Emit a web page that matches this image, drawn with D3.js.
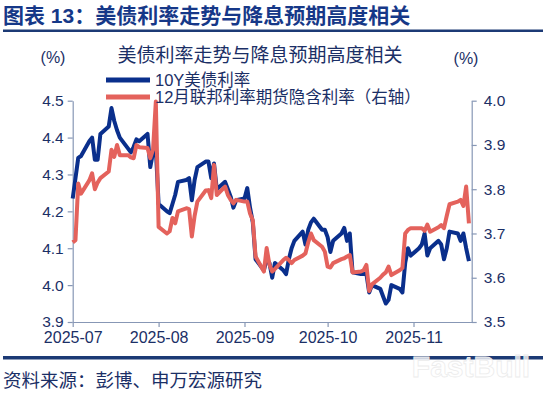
<!DOCTYPE html>
<html>
<head>
<meta charset="utf-8">
<script src="https://cdn.jsdelivr.net/npm/d3@7"></script>
<style>
  body { margin: 0; background: #fff; }
  text { font-family: "Liberation Sans", Arial, "Noto Sans CJK SC", sans-serif; }
</style>
</head>
<body>
<div id="container"></div>
<script>
/**
 * DATA
 * */
const dates = [
  "07-01", "07-02", "07-03", "07-04",
  "07-07", "07-08", "07-09", "07-10", "07-11",
  "07-14", "07-15", "07-16", "07-17", "07-18",
  "07-21", "07-22", "07-23", "07-24", "07-25",
  "07-28", "07-29", "07-30", "07-31", "08-01",
  "08-04", "08-05", "08-06", "08-07", "08-08",
  "08-11", "08-12", "08-13", "08-14", "08-15",
  "08-18", "08-19", "08-20", "08-21", "08-22",
  "08-25", "08-26", "08-27", "08-28", "08-29",
  "09-01", "09-02", "09-03", "09-04", "09-05",
  "09-08", "09-09", "09-10", "09-11", "09-12",
  "09-15", "09-16", "09-17", "09-18", "09-19",
  "09-22", "09-23", "09-24", "09-25", "09-26",
  "09-29", "09-30", "10-01", "10-02", "10-03",
  "10-06", "10-07", "10-08", "10-09", "10-10",
  "10-13", "10-14", "10-15", "10-16", "10-17",
  "10-20", "10-21", "10-22", "10-23", "10-24",
  "10-27", "10-28", "10-29", "10-30", "10-31",
  "11-03", "11-04", "11-05", "11-06", "11-07",
  "11-10", "11-11", "11-12", "11-13", "11-14",
  "11-17", "11-18", "11-19", "11-20", "11-21",
];

// 10Y US treasury yield (left axis)
const us10y = [
  4.235, 4.29, 4.345, 4.35,
  4.39, 4.40, 4.34, 4.34, 4.41,
  4.43, 4.48, 4.445, 4.42, 4.40,
  4.37, 4.36, 4.375, 4.395, 4.39,
  4.41, 4.32, 4.36, 4.37, 4.22,
  4.20, 4.195, 4.22, 4.245, 4.28,
  4.285, 4.29, 4.23, 4.285, 4.32,
  4.335, 4.335, 4.29, 4.33, 4.26,
  4.28, 4.26, 4.24, 4.21, 4.23,
  4.235, 4.263, 4.21, 4.17, 4.07,
  4.04, 4.07, 4.06, 4.02, 4.06,
  4.04, 4.03, 4.07, 4.10, 4.12,
  4.145, 4.11, 4.15, 4.17, 4.18,
  4.15, 4.15, 4.13, 4.09, 4.12,
  4.14, 4.155, 4.12, 4.14, 4.035,
  4.03, 4.03, 4.03, 3.98, 4.00,
  3.99, 3.97, 3.95, 3.96, 4.00,
  3.99, 3.98, 4.06, 4.10, 4.08,
  4.10, 4.11, 4.14, 4.08, 4.10,
  4.12, 4.11, 4.07, 4.10, 4.145,
  4.14, 4.12, 4.14, 4.10, 4.065,
];

// Dec fed funds futures implied rate (right axis)
const fedFut = [
  3.68, 3.685, 3.813, 3.79,
  3.82, 3.836, 3.80, 3.815, 3.825,
  3.84, 3.889, 3.873, 3.90, 3.877,
  3.877, 3.872, 3.87, 3.90, 3.895,
  3.893, 3.87, 3.89, 3.998, 3.715,
  3.70, 3.705, 3.735, 3.723, 3.75,
  3.757, 3.755, 3.693, 3.74, 3.772,
  3.797, 3.798, 3.78, 3.855, 3.787,
  3.806, 3.787, 3.776, 3.768, 3.776,
  3.772, 3.772, 3.745, 3.73, 3.648,
  3.614, 3.667, 3.63, 3.614, 3.62,
  3.64, 3.645, 3.64, 3.633, 3.64,
  3.65, 3.655, 3.68, 3.70, 3.685,
  3.67, 3.659, 3.625, 3.623, 3.633,
  3.642, 3.644, 3.648, 3.651, 3.612,
  3.614, 3.617, 3.629, 3.57, 3.585,
  3.60, 3.607, 3.612, 3.625, 3.606,
  3.617, 3.622, 3.70, 3.708, 3.712,
  3.712, 3.712, 3.706, 3.72, 3.704,
  3.714, 3.719, 3.712, 3.74, 3.766,
  3.772, 3.776, 3.762, 3.806, 3.723,
];

const leftTicks = [3.9, 4.0, 4.1, 4.2, 4.3, 4.4, 4.5];
const rightTicks = [3.5, 3.6, 3.7, 3.8, 3.9, 4.0];
const seriesNames = ["10Y美债利率", "12月联邦利率期货隐含利率（右轴）"];

/**
 * CONSTANTS
 * */
const width = 548,
  height = 395,
  margin = { top: 100.7, bottom: 73, left: 72.7, right: 76.3 };

const navy = "#1b2f66",
  blue = "#0a2f8c",
  red = "#e4625c",
  axisColor = "#8797b5";

const parse = d3.utcParse("%Y-%m-%d");
const rows = dates.map((d, i) => ({
  date: parse("2025-" + d),
  us10y: us10y[i],
  fed: fedFut[i],
}));

const svg = d3
  .select("#container")
  .append("svg")
  .attr("width", width)
  .attr("height", height);

// scales
const x = d3
  .scaleUtc()
  .domain([parse("2025-07-01"), parse("2025-11-22")])
  .range([margin.left, width - margin.right]);

const yL = d3
  .scaleLinear()
  .domain([3.9, 4.5])
  .range([height - margin.bottom, margin.top]);

const yR = d3
  .scaleLinear()
  .domain([3.5, 4.0])
  .range([height - margin.bottom, margin.top]);

// header
svg
  .append("text")
  .attr("x", 3)
  .attr("y", 22.5)
  .attr("font-size", 21)
  .attr("font-weight", "bold")
  .attr("fill", "#163888")
  .text("图表 13：美债利率走势与降息预期高度相关");

svg
  .append("rect")
  .attr("x", 3)
  .attr("y", 29.5)
  .attr("width", 540)
  .attr("height", 2.5)
  .attr("fill", "#1c3a75");

svg
  .append("text")
  .attr("x", 260)
  .attr("y", 62)
  .attr("text-anchor", "middle")
  .attr("font-size", 19)
  .attr("fill", navy)
  .text("美债利率走势与降息预期高度相关");

svg
  .append("text")
  .attr("x", 53)
  .attr("y", 63)
  .attr("text-anchor", "middle")
  .attr("font-size", 16)
  .attr("fill", navy)
  .text("(%)");

svg
  .append("text")
  .attr("x", 466)
  .attr("y", 64)
  .attr("text-anchor", "middle")
  .attr("font-size", 16)
  .attr("fill", navy)
  .text("(%)");

// axes
function styleAxis(g) {
  g.select(".domain").attr("stroke", axisColor).attr("stroke-width", 1.2);
  g.selectAll(".tick line").attr("stroke", axisColor).attr("stroke-width", 1.2);
  g.selectAll(".tick text")
    .attr("fill", navy)
    .attr("font-size", 15.5)
    .attr("font-family", "Liberation Sans, Arial, sans-serif");
}

svg
  .append("g")
  .attr("transform", `translate(${margin.left},0)`)
  .call(d3.axisLeft(yL).tickValues(leftTicks).tickFormat(d3.format(".1f")).tickSize(5).tickSizeOuter(0).tickPadding(4))
  .call(styleAxis);

svg
  .append("g")
  .attr("transform", `translate(${width - margin.right},0)`)
  .call(d3.axisRight(yR).tickValues(rightTicks).tickFormat(d3.format(".1f")).tickSize(5).tickSizeOuter(0).tickPadding(7))
  .call(styleAxis);

svg
  .append("g")
  .attr("transform", `translate(0,${height - margin.bottom})`)
  .call(
    d3
      .axisBottom(x)
      .ticks(d3.utcMonth.every(1))
      .tickFormat(d3.utcFormat("%Y-%m"))
      .tickSize(5)
      .tickSizeOuter(0)
      .tickPadding(5)
  )
  .call(styleAxis)
  .call((g) => g.selectAll(".tick text").attr("font-size", 16));

// lines
const lineL = d3
  .line()
  .x((d) => x(d.date))
  .y((d) => yL(d.us10y));

const lineR = d3
  .line()
  .x((d) => x(d.date))
  .y((d) => yR(d.fed));

svg
  .append("path")
  .datum(rows)
  .attr("d", lineL)
  .attr("fill", "none")
  .attr("stroke", blue)
  .attr("stroke-width", 4)
  .attr("stroke-linejoin", "round");

svg
  .append("path")
  .datum(rows)
  .attr("d", lineR)
  .attr("fill", "none")
  .attr("stroke", red)
  .attr("stroke-width", 4)
  .attr("stroke-linejoin", "round");

// legend
const legend = svg
  .selectAll("g.legend")
  .data(seriesNames)
  .join("g")
  .attr("class", "legend")
  .attr("transform", (d, i) => `translate(106,${80 + i * 17})`);

legend
  .append("line")
  .attr("x1", 0)
  .attr("x2", 44)
  .attr("stroke", (d, i) => (i === 0 ? blue : red))
  .attr("stroke-width", 5);

legend
  .append("text")
  .attr("x", 49)
  .attr("y", 6)
  .attr("font-size", 16.5)
  .attr("fill", navy)
  .text((d) => d);

// footer
svg
  .append("rect")
  .attr("x", 3)
  .attr("y", 356)
  .attr("width", 540)
  .attr("height", 3.5)
  .attr("fill", "#1c3a75");

svg
  .append("text")
  .attr("x", 3)
  .attr("y", 387)
  .attr("font-size", 18.5)
  .attr("fill", navy)
  .text("资料来源：彭博、申万宏源研究");

// faint watermark
svg
  .append("text")
  .attr("x", 471)
  .attr("y", 377)
  .attr("text-anchor", "middle")
  .attr("font-size", 30)
  .attr("font-weight", "bold")
  .attr("fill", "#ffffff")
  .attr("fill-opacity", 0.8)
  .attr("stroke", "#ececec")
  .attr("stroke-width", 0.8)
  .text("FastBull");
</script>
</body>
</html>
